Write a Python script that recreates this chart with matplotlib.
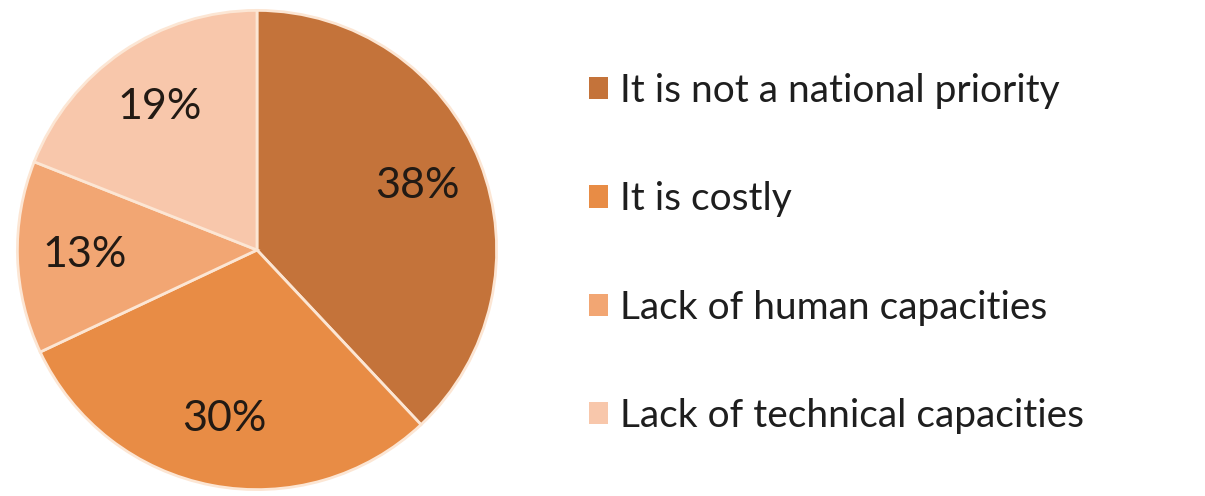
import matplotlib.pyplot as plt
from matplotlib.patches import Patch

# reasons given, in drawing order (clockwise from 12 o'clock)
reasons = [
    "It is not a national priority",
    "It is costly",
    "Lack of human capacities",
    "Lack of technical capacities",
]
shares = [38, 30, 13, 19]
colors = ["#C4733A", "#E88C45", "#F2A673", "#F8C7AB"]

plt.rcParams["font.family"] = ["Lato", "DejaVu Sans"]

W, H = 1205, 496
fig = plt.figure(figsize=(W / 100, H / 100), dpi=100)

# pie axes: centre (257, 250) px, radius 242 px
cx, cy, r = 257, 250, 242
ax = fig.add_axes([(cx - r) / W, (H - cy - r) / H, 2 * r / W, 2 * r / H])
wedges, texts = ax.pie(
    shares,
    colors=colors,
    startangle=90,
    counterclock=False,
    labels=[f"{s}%" for s in shares],
    labeldistance=0.72,
    wedgeprops=dict(edgecolor="#FCE6D4", linewidth=2),
    textprops=dict(fontsize=31, color="#221a14"),
)
for t in texts:
    t.set_horizontalalignment("center")
    t.set_verticalalignment("center")
ax.set_xlim(-1.01, 1.01)
ax.set_ylim(-1.01, 1.01)
ax.set_aspect("equal")
ax.axis("off")

handles = [Patch(facecolor=c, edgecolor="none") for c in colors]
fig.legend(
    handles,
    reasons,
    loc="upper left",
    bbox_to_anchor=(589 / W, 1 - 73 / H),
    frameon=False,
    fontsize=28,
    labelcolor="#1e1e1e",
    handlelength=0.5,
    handleheight=0.5,
    handletextpad=0.3,
    labelspacing=1.86,
    borderaxespad=0,
    borderpad=0,
)

fig.savefig("out.png", dpi=100)
